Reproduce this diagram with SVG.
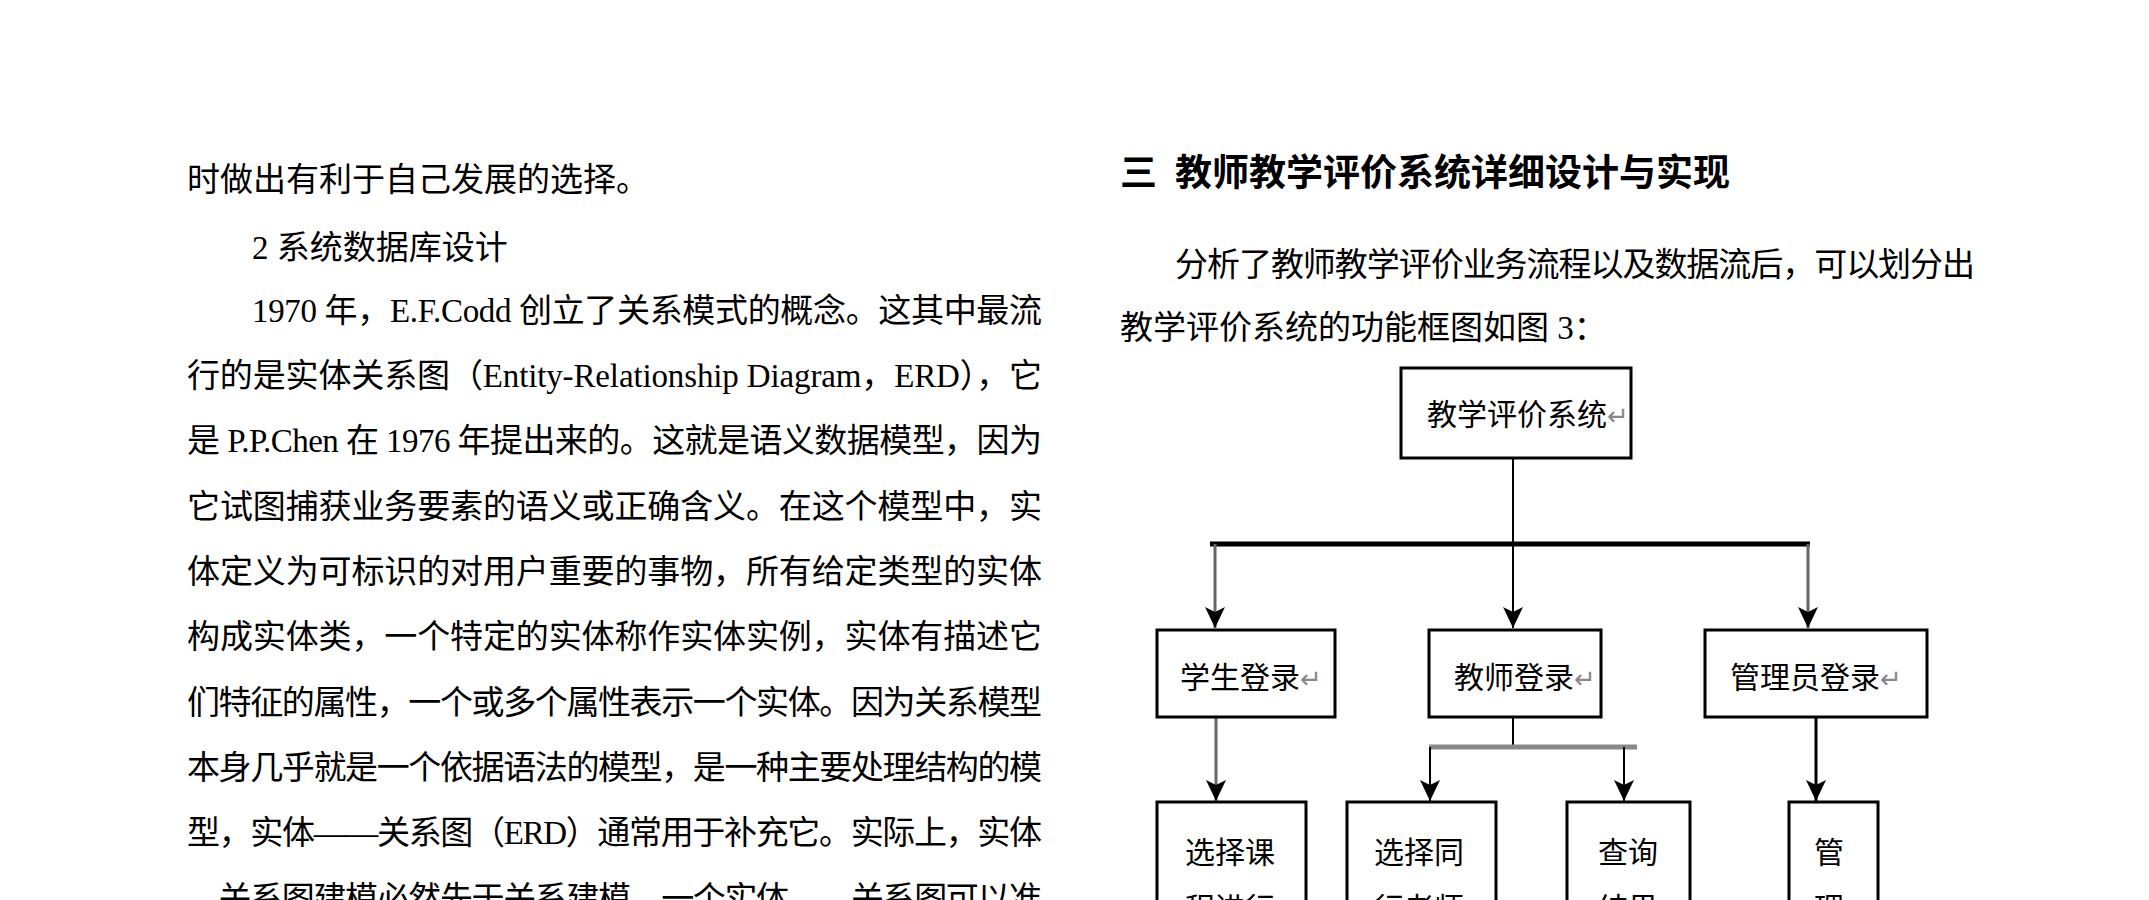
<svg xmlns="http://www.w3.org/2000/svg" width="2149" height="900" viewBox="0 0 2149 900">
<style>
.body{font-family:"Liberation Serif","Noto Sans CJK SC",serif;font-size:33px;fill:#000}
.head{font-family:"Noto Sans CJK SC","Liberation Sans",sans-serif;font-size:37px;font-weight:bold;fill:#000}
.lbl{font-family:"Noto Sans CJK SC","Liberation Sans",sans-serif;font-size:30px;fill:#000}
.ret{font-family:"DejaVu Sans",sans-serif;font-size:26px;fill:#888}
.box{fill:#fff;stroke:#000;stroke-width:3}
.ln{fill:none;stroke:#000;stroke-width:2}
.gl{fill:none;stroke:#666;stroke-width:3}
</style>
<defs>
<marker id="ah" viewBox="0 0 21 20" refX="21" refY="10" markerWidth="21" markerHeight="20" markerUnits="userSpaceOnUse" orient="auto">
<path d="M0,0 L21,10 L0,20 L5,10 Z" fill="#000"/>
</marker>
</defs>
<rect width="2149" height="900" fill="#fff"/>
<g id="left-text">
<text class="body" x="187" y="191">时做出有利于自己发展的选择。</text>
<text class="body" x="252" y="259">2  系统数据库设计</text>
<text class="body" x="252" y="322" textLength="790" lengthAdjust="spacing">1970 年，E.F.Codd 创立了关系模式的概念。这其中最流</text>
<text class="body" x="187" y="387" textLength="855" lengthAdjust="spacing">行的是实体关系图（Entity-Relationship Diagram，ERD），它</text>
<text class="body" x="187" y="452" textLength="855" lengthAdjust="spacing">是 P.P.Chen 在 1976 年提出来的。这就是语义数据模型，因为</text>
<text class="body" x="187" y="518" textLength="855" lengthAdjust="spacing">它试图捕获业务要素的语义或正确含义。在这个模型中，实</text>
<text class="body" x="187" y="583" textLength="855" lengthAdjust="spacing">体定义为可标识的对用户重要的事物，所有给定类型的实体</text>
<text class="body" x="187" y="648" textLength="855" lengthAdjust="spacing">构成实体类，一个特定的实体称作实体实例，实体有描述它</text>
<text class="body" x="187" y="714" textLength="855" lengthAdjust="spacing">们特征的属性，一个或多个属性表示一个实体。因为关系模型</text>
<text class="body" x="187" y="779" textLength="855" lengthAdjust="spacing">本身几乎就是一个依据语法的模型，是一种主要处理结构的模</text>
<text class="body" x="187" y="844" textLength="855" lengthAdjust="spacing">型，实体——关系图（ERD）通常用于补充它。实际上，实体</text>
<text class="body" x="187" y="910" textLength="855" lengthAdjust="spacing">—关系图建模必然先于关系建模。一个实体——关系图可以准</text>
</g>
<g id="right-text">
<text class="head" x="1120" y="186">三 <tspan x="1175">教师教学评价系统详细设计与实现</tspan></text>
<text class="body" x="1175" y="276" textLength="800" lengthAdjust="spacing">分析了教师教学评价业务流程以及数据流后，可以划分出</text>
<text class="body" x="1120" y="339">教学评价系统的功能框图如图 3：</text>
</g>
<g id="connectors">
<line class="ln" x1="1513" y1="458" x2="1513" y2="544" stroke="#555"/>
<line x1="1210" y1="544" x2="1810" y2="544" stroke="#000" stroke-width="5"/>
<line class="gl" x1="1215" y1="544" x2="1215" y2="628" marker-end="url(#ah)"/>
<line class="ln" x1="1513" y1="544" x2="1513" y2="628" marker-end="url(#ah)"/>
<line class="gl" x1="1808" y1="544" x2="1808" y2="628" marker-end="url(#ah)"/>
<line class="gl" x1="1216" y1="717" x2="1216" y2="801" marker-end="url(#ah)"/>
<line class="ln" x1="1513" y1="717" x2="1513" y2="747" stroke="#666"/>
<line x1="1429" y1="747" x2="1637" y2="747" stroke="#888" stroke-width="5"/>
<line class="ln" x1="1430" y1="747" x2="1430" y2="801" marker-end="url(#ah)"/>
<line class="ln" x1="1624" y1="747" x2="1624" y2="801" marker-end="url(#ah)"/>
<line x1="1816" y1="717" x2="1816" y2="801" stroke="#000" stroke-width="3" marker-end="url(#ah)"/>
</g>
<g id="node-root">
<rect class="box" x="1401" y="368" width="230" height="90"/>
<text class="lbl" x="1427" y="425">教学评价系统<tspan class="ret">↵</tspan></text>
</g>
<g id="node-student">
<rect class="box" x="1157" y="630" width="178" height="87"/>
<text class="lbl" x="1180" y="688">学生登录<tspan class="ret">↵</tspan></text>
</g>
<g id="node-teacher">
<rect class="box" x="1429" y="630" width="172" height="87"/>
<text class="lbl" x="1454" y="688">教师登录<tspan class="ret">↵</tspan></text>
</g>
<g id="node-admin">
<rect class="box" x="1705" y="630" width="222" height="87"/>
<text class="lbl" x="1730" y="688">管理员登录<tspan class="ret">↵</tspan></text>
</g>
<g id="node-select-course">
<rect class="box" x="1157" y="802" width="149" height="120"/>
<text class="lbl" x="1185" y="863">选择课</text>
<text class="lbl" x="1185" y="919">程进行</text>
</g>
<g id="node-select-peer">
<rect class="box" x="1347" y="802" width="149" height="120"/>
<text class="lbl" x="1374" y="863">选择同</text>
<text class="lbl" x="1374" y="919">行老师</text>
</g>
<g id="node-query">
<rect class="box" x="1567" y="802" width="123" height="120"/>
<text class="lbl" x="1598" y="863">查询</text>
<text class="lbl" x="1598" y="919">结果</text>
</g>
<g id="node-manage">
<rect class="box" x="1789" y="802" width="89" height="120"/>
<text class="lbl" x="1814" y="863">管</text>
<text class="lbl" x="1814" y="919">理</text>
</g>
</svg>
